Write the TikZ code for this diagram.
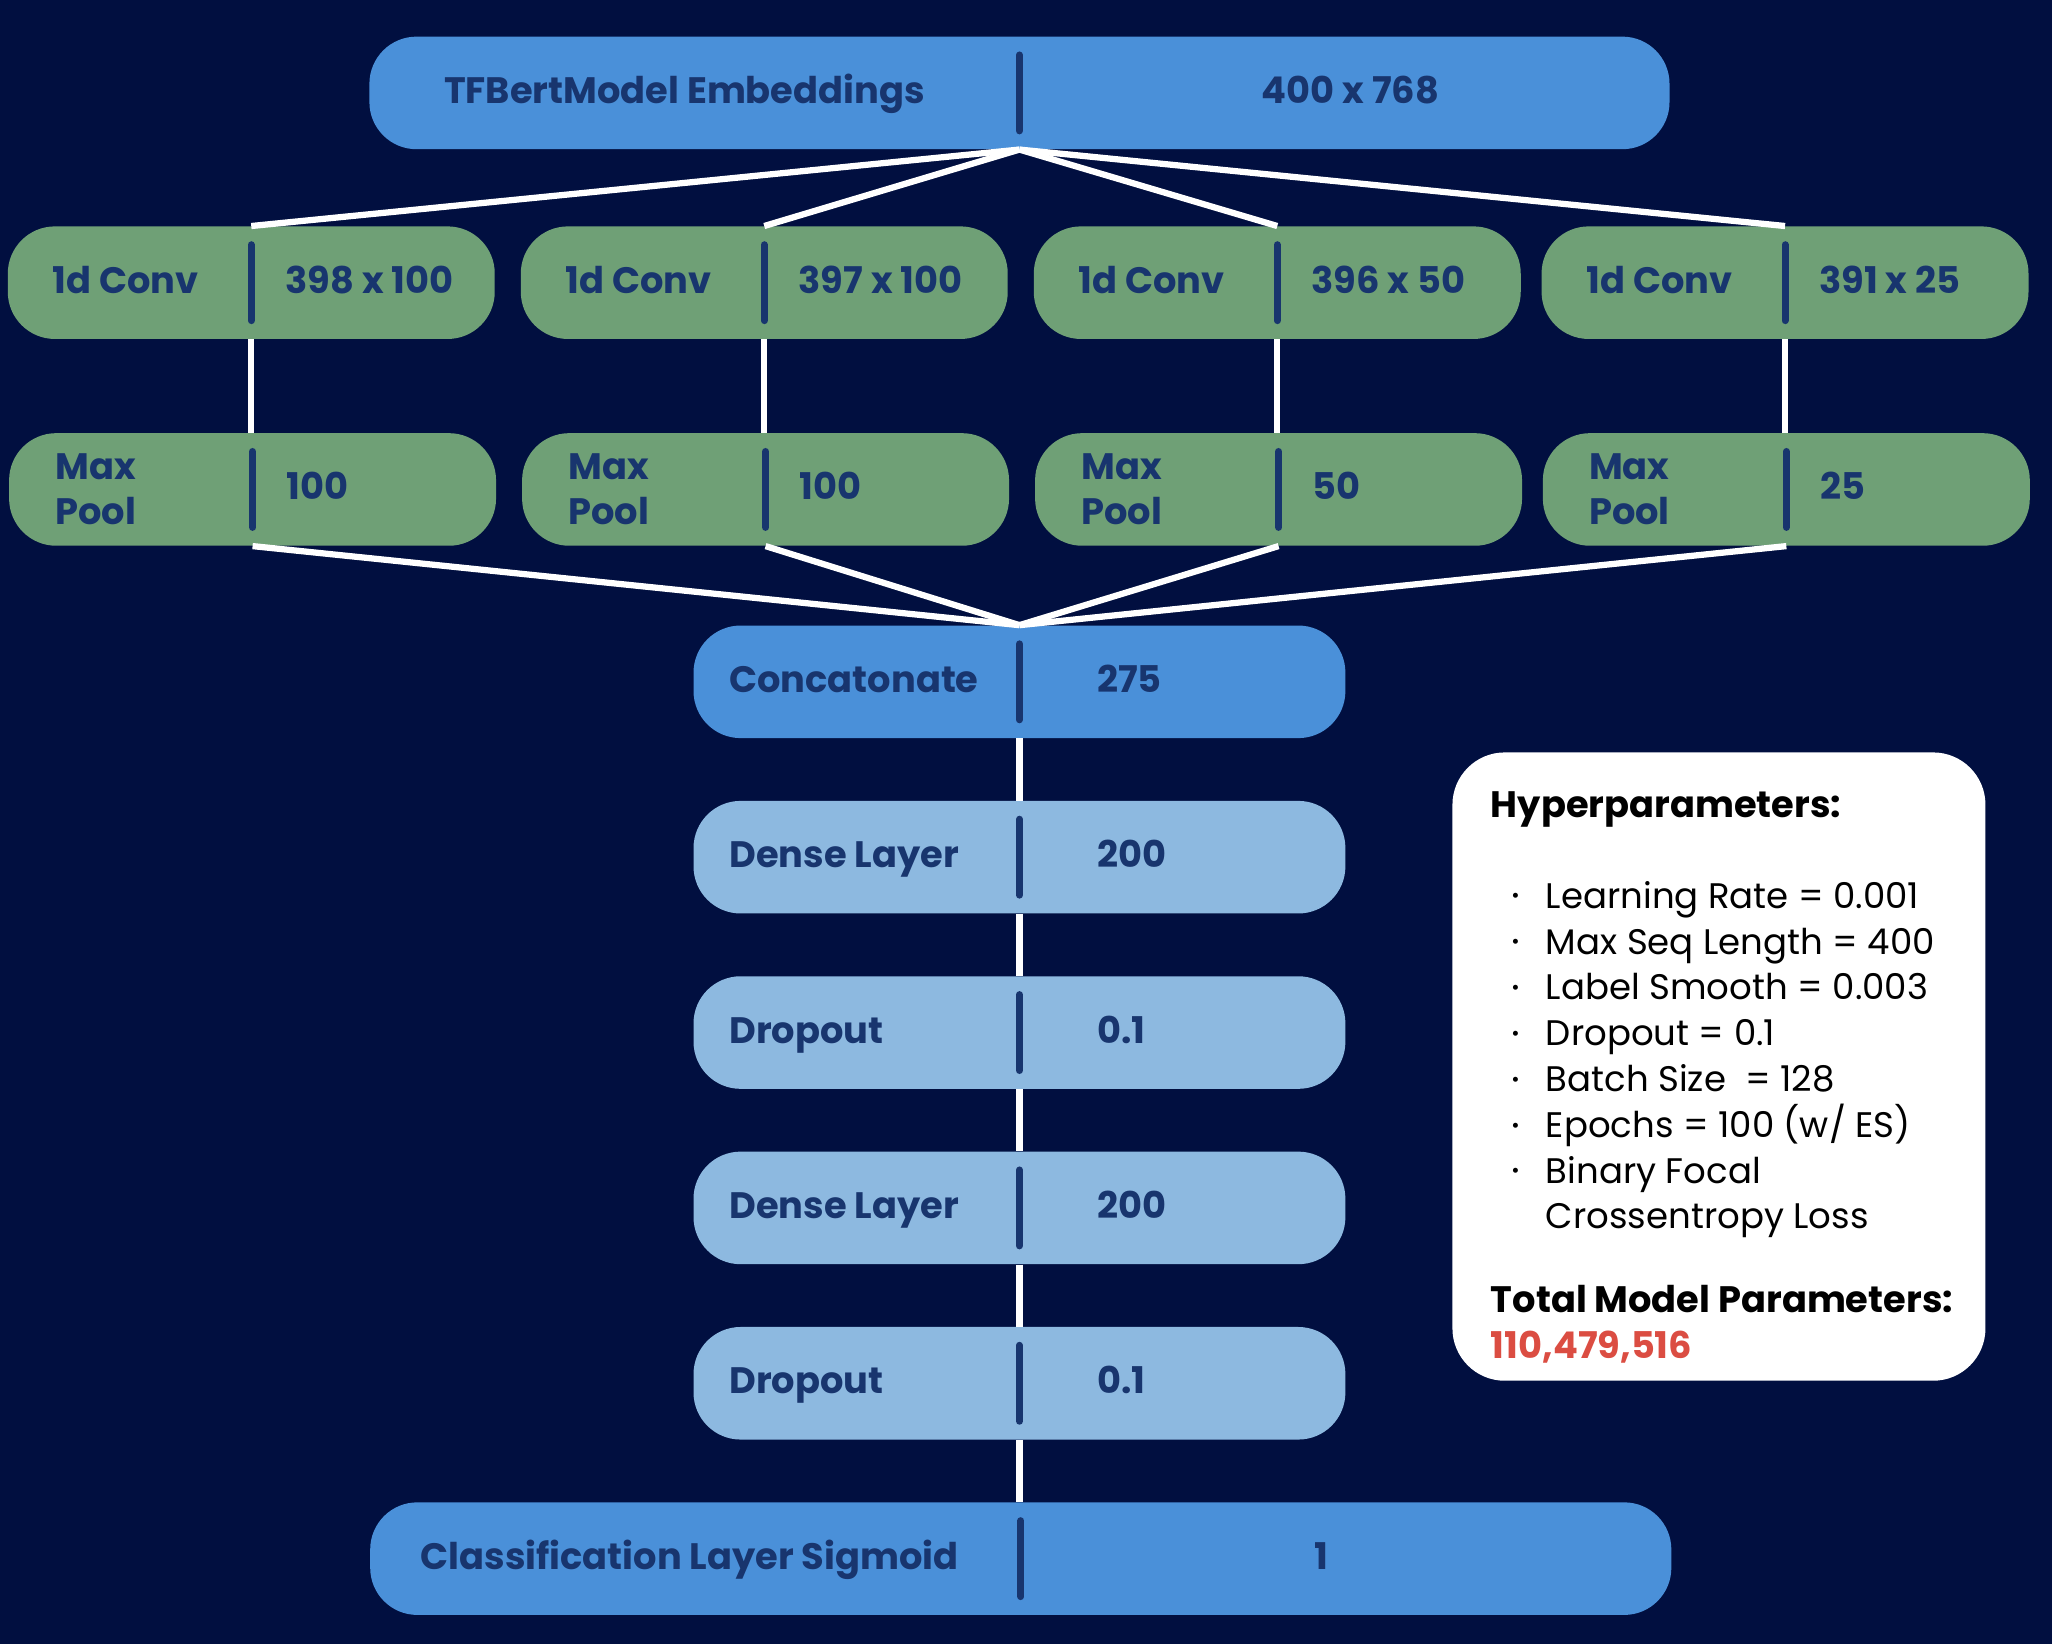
\documentclass[tikz,border=0pt]{standalone}
\usepackage{fontspec}
\setmainfont{Poppins}
\usetikzlibrary{calc}
\definecolor{bgnavy}{RGB}{1,15,64}
\definecolor{midblue}{RGB}{74,144,217}
\definecolor{paleblue}{RGB}{141,185,224}
\definecolor{convgreen}{RGB}{111,160,118}
\definecolor{inknavy}{RGB}{24,53,110}
\definecolor{hpred}{RGB}{219,77,66}

\begin{document}
\begin{tikzpicture}[x=0.025cm, y=-0.025cm,
    box/.style={rounded corners=0.9cm, minimum height=2.15cm, inner sep=0pt},
    txt/.style={text=inknavy, font=\fontsize{20}{24}\selectfont\bfseries, inner sep=0pt},
    hp/.style={text=black, font=\fontsize{19.3}{24}\selectfont, inner sep=0pt, anchor=base west},
    divider/.style={line width=3.8pt, inknavy, line cap=round},
    link/.style={line width=3.4pt, white}]

    \fill[bgnavy] (0,0) rectangle (1568,1256);
    \useasboundingbox (0,0) rectangle (1568,1256);

    \node[box, fill=midblue, minimum width=24.83cm] (bert) at (779,71) {};
    \node[txt, anchor=base] (bertl) at (523,79) {TFBertModel Embeddings};
    \node[txt, anchor=base] (bertr) at (1032,79) {400 x 768};
    \draw[divider] ([yshift=0.725cm]bert.center) -- ([yshift=-0.725cm]bert.center);

    \foreach \x/\i/\a/\b in {192/1/398 x 100/100,584/2/397 x 100/100,976/3/396 x 50/50,1364/4/391 x 25/25} {
        \node[box, fill=convgreen, minimum width=9.3cm] (conv\i) at (\x,216) {};
        \node[txt, anchor=base west] (convl\i) at (\x-152,224) {1d Conv};
        \node[txt, anchor=base west] (convr\i) at (\x+26,224) {\a};
        \node[box, fill=convgreen, minimum width=9.3cm] (pool\i) at (\x+1,374) {};
        \node[txt, anchor=west, align=left, font=\fontsize{20}{24.2}\selectfont\bfseries] (pooll\i) at (\x-150,374) {Max\\Pool};
        \node[txt, anchor=base west] (poolr\i) at (\x+27,382) {\b};
        \draw[divider] ([yshift=0.725cm]conv\i.center) -- ([yshift=-0.725cm]conv\i.center);
        \draw[divider] ([yshift=0.725cm]pool\i.center) -- ([yshift=-0.725cm]pool\i.center);
    }

    \foreach \y/\i/\c/\a/\b in {521/1/midblue/Concatonate/275,655/2/paleblue/Dense Layer/200,789/3/paleblue/Dropout/0.1,923/4/paleblue/Dense Layer/200,1057/5/paleblue/Dropout/0.1} {
        \node[box, fill=\c, minimum width=12.45cm] (mid\i) at (779,\y) {};
        \node[txt, anchor=base west] (midl\i) at (557,\y+8) {\a};
        \node[txt, anchor=base west] (midr\i) at (838,\y+8) {\b};
        \draw[divider] ([yshift=0.725cm]mid\i.center) -- ([yshift=-0.725cm]mid\i.center);
    }

    \node[box, fill=midblue, minimum width=24.85cm] (cls) at (780,1191) {};
    \node[txt, anchor=base] (clsl) at (527,1199) {Classification Layer Sigmoid};
    \node[txt, anchor=base] (clsr) at (1010,1199) {1};
    \draw[divider] ([yshift=0.725cm]cls.center) -- ([yshift=-0.725cm]cls.center);

    % connectors
    \foreach \i in {1,...,4} {
        \draw[link] (bert.south) -- (conv\i.north);
        \draw[link] (conv\i.south) -- (conv\i.south |- pool\i.north);
        \draw[link] (pool\i.south) -- (mid1.north);
    }
    \draw[link] (mid1.south) -- (mid2.north);
    \draw[link] (mid2.south) -- (mid3.north);
    \draw[link] (mid3.south) -- (mid4.north);
    \draw[link] (mid4.south) -- (mid5.north);
    \draw[link] (mid5.south) -- (mid5.south |- cls.north);

    % hyperparameters
    \node[box, fill=white, rounded corners=1cm, minimum width=10.18cm, minimum height=12cm] (hyper) at (1313.5,815) {};
    \node[hp, font=\fontsize{20}{24}\selectfont\bfseries] (hphead) at (1139,625) {Hyperparameters:};
    \foreach \y/\t [count=\i] in {694/Learning Rate = 0.001,729/Max Seq Length = 400,764/Label Smooth = 0.003,799/Dropout = 0.1,834/{Batch Size \ = 128},869/{Epochs = 100 (w/ ES)},904/Binary Focal} {
        \node[hp] (hp\i) at (1181,\y) {\t};
        \node[hp, anchor=base, font=\fontsize{11}{11}\selectfont] (dot\i) at (1158,\y-4) {•};
    }
    \node[hp] (hp8) at (1181,939) {Crossentropy Loss};
    \node[hp, font=\fontsize{20}{24}\selectfont\bfseries] (hptotal) at (1139,1003) {Total Model Parameters:};
    \node[hp, text=hpred, font=\fontsize{20}{24}\selectfont\bfseries] (hpcount) at (1139,1038) {110,479,516};
\end{tikzpicture}
\end{document}
